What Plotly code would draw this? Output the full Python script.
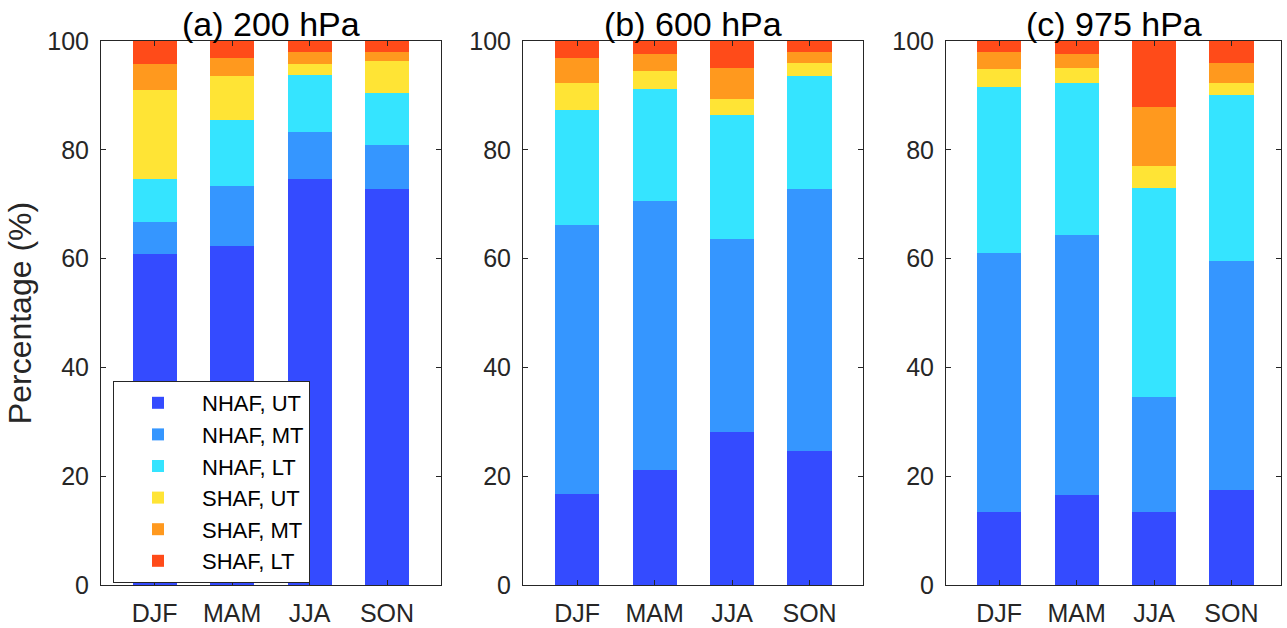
import plotly.graph_objects as go

seasons = ["DJF", "MAM", "JJA", "SON"]
panel_titles = ["(a) 200 hPa", "(b) 600 hPa", "(c) 975 hPa"]
series_names = ["NHAF, UT", "NHAF, MT", "NHAF, LT", "SHAF, UT", "SHAF, MT", "SHAF, LT"]
colors = ["#344BFF", "#3596FF", "#35E4FF", "#FFE435", "#FF991E", "#FF4B19"]

# Percentages, one list per series, each list = [DJF, MAM, JJA, SON]
p200_nhaf_ut = [60.8, 62.3, 74.7, 72.8]
p200_nhaf_mt = [6.0, 11.1, 8.6, 8.1]
p200_nhaf_lt = [7.9, 12.0, 10.5, 9.6]
p200_shaf_ut = [16.3, 8.2, 2.0, 5.8]
p200_shaf_mt = [4.8, 3.2, 2.1, 1.7]
p200_shaf_lt = [4.2, 3.2, 2.1, 2.0]

p600_nhaf_ut = [16.7, 21.1, 28.1, 24.6]
p600_nhaf_mt = [49.5, 49.5, 35.5, 48.2]
p600_nhaf_lt = [21.1, 20.6, 22.8, 20.8]
p600_shaf_ut = [5.0, 3.3, 2.9, 2.4]
p600_shaf_mt = [4.6, 3.1, 5.7, 2.0]
p600_shaf_lt = [3.1, 2.4, 5.0, 2.0]

p975_nhaf_ut = [13.4, 16.5, 13.4, 17.4]
p975_nhaf_mt = [47.6, 47.9, 21.1, 42.2]
p975_nhaf_lt = [30.6, 27.9, 38.5, 30.5]
p975_shaf_ut = [3.3, 2.7, 4.1, 2.2]
p975_shaf_mt = [3.0, 2.7, 10.8, 3.7]
p975_shaf_lt = [2.1, 2.3, 12.1, 4.0]

panels = [
    [p200_nhaf_ut, p200_nhaf_mt, p200_nhaf_lt, p200_shaf_ut, p200_shaf_mt, p200_shaf_lt],
    [p600_nhaf_ut, p600_nhaf_mt, p600_nhaf_lt, p600_shaf_ut, p600_shaf_mt, p600_shaf_lt],
    [p975_nhaf_ut, p975_nhaf_mt, p975_nhaf_lt, p975_shaf_ut, p975_shaf_mt, p975_shaf_lt],
]

W, H = 1287, 628
domains_px = [(101, 441), (523, 863), (946, 1281)]
xranges = [[0.307, 4.697], [0.30, 4.69], [0.313, 4.64]]
xpos = [1, 2, 3, 4]
axis_col = "#262626"
FONT = "Arial, Liberation Sans, Helvetica, sans-serif"

fig = go.Figure()
for pi, series in enumerate(panels):
    xa = "x" if pi == 0 else f"x{pi+1}"
    ya = "y" if pi == 0 else f"y{pi+1}"
    for si, vals in enumerate(series):
        fig.add_trace(go.Bar(
            x=xpos, y=vals, name=series_names[si],
            marker=dict(color=colors[si], line=dict(width=0)),
            width=0.57, xaxis=xa, yaxis=ya,
            legendgroup=series_names[si], showlegend=(pi == 0),
            hovertemplate="%{y:.1f}%<extra>" + series_names[si] + "</extra>",
        ))

layout = dict(
    width=W, height=H,
    barmode="stack",
    paper_bgcolor="white", plot_bgcolor="white",
    margin=dict(l=0, r=0, t=41, b=43, pad=0),
    font=dict(family=FONT, color=axis_col, size=25),
    legend=dict(
        x=113 / W, y=(585 - 381) / 544, xanchor="left", yanchor="top",
        bgcolor="white", bordercolor=axis_col, borderwidth=1,
        font=dict(size=22, color="black", family=FONT),
        traceorder="normal", itemwidth=78, tracegroupgap=0,
        entrywidth=110,
    ),
    annotations=[],
)

for pi in range(3):
    xk = "xaxis" if pi == 0 else f"xaxis{pi+1}"
    yk = "yaxis" if pi == 0 else f"yaxis{pi+1}"
    xa = "x" if pi == 0 else f"x{pi+1}"
    ya = "y" if pi == 0 else f"y{pi+1}"
    d0, d1 = domains_px[pi]
    layout[xk] = dict(
        domain=[d0 / W, d1 / W], range=xranges[pi], anchor=ya,
        tickmode="array", tickvals=xpos, ticktext=seasons,
        showline=True, linecolor=axis_col, linewidth=1, mirror="ticks",
        ticks="inside", ticklen=5, tickcolor=axis_col,
        tickfont=dict(size=25, color=axis_col), ticklabelstandoff=6,
        showgrid=False, zeroline=False, fixedrange=True,
    )
    layout[yk] = dict(
        domain=[0, 1], range=[0, 100], anchor=xa,
        tickmode="array", tickvals=[0, 20, 40, 60, 80, 100],
        showline=True, linecolor=axis_col, linewidth=1, mirror="ticks",
        ticks="inside", ticklen=5, tickcolor=axis_col,
        tickfont=dict(size=25, color=axis_col), ticklabelstandoff=6,
        showgrid=False, zeroline=False, fixedrange=True,
    )
    layout["annotations"].append(dict(
        text=panel_titles[pi], xref=f"{xa} domain", yref="paper",
        x=0.5, y=1, xanchor="center", yanchor="bottom", yshift=-4,
        showarrow=False, font=dict(size=34, color="black", family=FONT),
    ))

layout["yaxis"]["title"] = dict(text="Percentage (%)", font=dict(size=32, color=axis_col, family=FONT), standoff=6)

fig.update_layout(**layout)
fig.write_html("out.html")
